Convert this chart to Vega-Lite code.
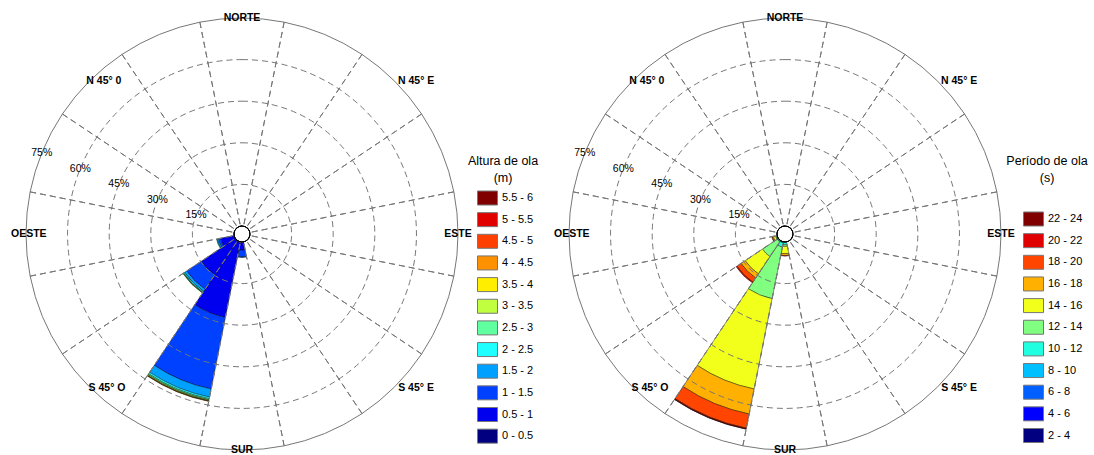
{
  "$schema": "https://vega.github.io/schema/vega-lite/v6.json",
  "padding": 0,
  "background": "white",
  "bounds": "flush",
  "spacing": 59,
  "config": {"view": {"stroke": null}, "font": "Liberation Sans"},
  "resolve": {"scale": {"color": "independent"}, "legend": {"color": "independent"}},
  "datasets": {
    "altura": [
      {"a0": 168.75, "a1": 191.25, "b": 0, "bin": "0 - 0.5", "pct": 0.1},
      {"a0": 168.75, "a1": 191.25, "b": 0.5, "bin": "0.5 - 1", "pct": 2.8},
      {"a0": 168.75, "a1": 191.25, "b": 1, "bin": "1 - 1.5", "pct": 2.5},
      {"a0": 168.75, "a1": 191.25, "b": 1.5, "bin": "1.5 - 2", "pct": 0.2},
      {"a0": 191.25, "a1": 213.75, "b": 0, "bin": "0 - 0.5", "pct": 0.3},
      {"a0": 191.25, "a1": 213.75, "b": 0.5, "bin": "0.5 - 1", "pct": 27.5},
      {"a0": 191.25, "a1": 213.75, "b": 1, "bin": "1 - 1.5", "pct": 26.3},
      {"a0": 191.25, "a1": 213.75, "b": 1.5, "bin": "1.5 - 2", "pct": 3.0},
      {"a0": 191.25, "a1": 213.75, "b": 2, "bin": "2 - 2.5", "pct": 0.6},
      {"a0": 191.25, "a1": 213.75, "b": 2.5, "bin": "2.5 - 3", "pct": 0.4},
      {"a0": 191.25, "a1": 213.75, "b": 3, "bin": "3 - 3.5", "pct": 0.3},
      {"a0": 191.25, "a1": 213.75, "b": 3.5, "bin": "3.5 - 4", "pct": 0.15},
      {"a0": 191.25, "a1": 213.75, "b": 4, "bin": "4 - 4.5", "pct": 0.1},
      {"a0": 213.75, "a1": 236.25, "b": 0, "bin": "0 - 0.5", "pct": 0.2},
      {"a0": 213.75, "a1": 236.25, "b": 0.5, "bin": "0.5 - 1", "pct": 14.6},
      {"a0": 213.75, "a1": 236.25, "b": 1, "bin": "1 - 1.5", "pct": 6.3},
      {"a0": 213.75, "a1": 236.25, "b": 1.5, "bin": "1.5 - 2", "pct": 0.9},
      {"a0": 213.75, "a1": 236.25, "b": 2, "bin": "2 - 2.5", "pct": 0.4},
      {"a0": 213.75, "a1": 236.25, "b": 2.5, "bin": "2.5 - 3", "pct": 0.25},
      {"a0": 213.75, "a1": 236.25, "b": 3, "bin": "3 - 3.5", "pct": 0.1},
      {"a0": 236.25, "a1": 258.75, "b": 0, "bin": "0 - 0.5", "pct": 0.1},
      {"a0": 236.25, "a1": 258.75, "b": 0.5, "bin": "0.5 - 1", "pct": 4.9},
      {"a0": 236.25, "a1": 258.75, "b": 1, "bin": "1 - 1.5", "pct": 0.8},
      {"a0": 236.25, "a1": 258.75, "b": 1.5, "bin": "1.5 - 2", "pct": 0.5},
      {"a0": 236.25, "a1": 258.75, "b": 2, "bin": "2 - 2.5", "pct": 0.2}
    ],
    "periodo": [
      {"a0": 168.75, "a1": 191.25, "b": 8, "bin": "8 - 10", "pct": 0.2},
      {"a0": 168.75, "a1": 191.25, "b": 10, "bin": "10 - 12", "pct": 0.8},
      {"a0": 168.75, "a1": 191.25, "b": 12, "bin": "12 - 14", "pct": 0.6},
      {"a0": 168.75, "a1": 191.25, "b": 14, "bin": "14 - 16", "pct": 2.6},
      {"a0": 168.75, "a1": 191.25, "b": 16, "bin": "16 - 18", "pct": 0.7},
      {"a0": 168.75, "a1": 191.25, "b": 18, "bin": "18 - 20", "pct": 0.2},
      {"a0": 191.25, "a1": 213.75, "b": 6, "bin": "6 - 8", "pct": 0.1},
      {"a0": 191.25, "a1": 213.75, "b": 8, "bin": "8 - 10", "pct": 0.3},
      {"a0": 191.25, "a1": 213.75, "b": 10, "bin": "10 - 12", "pct": 1.5},
      {"a0": 191.25, "a1": 213.75, "b": 12, "bin": "12 - 14", "pct": 19.0},
      {"a0": 191.25, "a1": 213.75, "b": 14, "bin": "14 - 16", "pct": 33.2},
      {"a0": 191.25, "a1": 213.75, "b": 16, "bin": "16 - 18", "pct": 9.2},
      {"a0": 191.25, "a1": 213.75, "b": 18, "bin": "18 - 20", "pct": 5.2},
      {"a0": 191.25, "a1": 213.75, "b": 20, "bin": "20 - 22", "pct": 0.3},
      {"a0": 191.25, "a1": 213.75, "b": 22, "bin": "22 - 24", "pct": 0.1},
      {"a0": 213.75, "a1": 236.25, "b": 8, "bin": "8 - 10", "pct": 0.1},
      {"a0": 213.75, "a1": 236.25, "b": 10, "bin": "10 - 12", "pct": 0.4},
      {"a0": 213.75, "a1": 236.25, "b": 12, "bin": "12 - 14", "pct": 6.4},
      {"a0": 213.75, "a1": 236.25, "b": 14, "bin": "14 - 16", "pct": 7.5},
      {"a0": 213.75, "a1": 236.25, "b": 16, "bin": "16 - 18", "pct": 1.8},
      {"a0": 213.75, "a1": 236.25, "b": 18, "bin": "18 - 20", "pct": 1.8},
      {"a0": 213.75, "a1": 236.25, "b": 20, "bin": "20 - 22", "pct": 0.3},
      {"a0": 236.25, "a1": 258.75, "b": 10, "bin": "10 - 12", "pct": 0.3},
      {"a0": 236.25, "a1": 258.75, "b": 12, "bin": "12 - 14", "pct": 0.3},
      {"a0": 236.25, "a1": 258.75, "b": 14, "bin": "14 - 16", "pct": 0.8},
      {"a0": 236.25, "a1": 258.75, "b": 16, "bin": "16 - 18", "pct": 0.4},
      {"a0": 236.25, "a1": 258.75, "b": 18, "bin": "18 - 20", "pct": 0.2}
    ],
    "rings": [{"r": 15}, {"r": 30}, {"r": 45}, {"r": 60}],
    "outer": [{"r": 75}],
    "hole": [{"r": 0}],
    "spokes": [
      {"a": 11.25}, {"a": 33.75}, {"a": 56.25}, {"a": 78.75},
      {"a": 101.25}, {"a": 123.75}, {"a": 146.25}, {"a": 168.75},
      {"a": 191.25}, {"a": 213.75}, {"a": 236.25}, {"a": 258.75},
      {"a": 281.25}, {"a": 303.75}, {"a": 326.25}, {"a": 348.75}
    ],
    "pcts": [
      {"r": 15, "t": "15%"}, {"r": 30, "t": "30%"}, {"r": 45, "t": "45%"},
      {"r": 60, "t": "60%"}, {"r": 75, "t": "75%"}
    ],
    "dirs": [
      {"t": "NORTE", "ang": 0, "r": 75},
      {"t": "N 45° E", "ang": 48.7, "r": 80.7},
      {"t": "ESTE", "ang": 90, "r": 75},
      {"t": "S 45° E", "ang": 131.5, "r": 80.9},
      {"t": "SUR", "ang": 180, "r": 75},
      {"t": "S 45° O", "ang": 221.2, "r": 71.0},
      {"t": "OESTE", "ang": 270, "r": 74},
      {"t": "N 45° 0", "ang": 317.9, "r": 71.4}
    ]
  },
  "hconcat": [
    {
      "width": 484,
      "height": 468,
      "layer": [
        {
          "data": {"name": "altura"},
          "transform": [{"stack": "pct", "groupby": ["a0"], "sort": [{"field": "b", "order": "ascending"}], "as": ["lo", "hi"]}],
          "mark": {"type": "arc", "stroke": "#000", "strokeWidth": 0.5, "strokeOpacity": 0.8},
          "encoding": {
            "theta": {"field": "a0", "type": "quantitative", "stack": null, "scale": {"domain": [0, 360], "range": [0, 6.283185307179586]}},
            "theta2": {"field": "a1"},
            "radius": {"field": "hi", "type": "quantitative", "stack": null, "scale": {"type": "linear", "domain": [0, 75], "range": [8, 216], "zero": false, "nice": false}},
            "radius2": {"field": "lo"},
            "color": {
              "field": "bin", "type": "nominal",
              "scale": {
                "domain": ["5.5 - 6", "5 - 5.5", "4.5 - 5", "4 - 4.5", "3.5 - 4", "3 - 3.5", "2.5 - 3", "2 - 2.5", "1.5 - 2", "1 - 1.5", "0.5 - 1", "0 - 0.5"],
                "range": ["#800000", "#E00000", "#FF4000", "#FF9000", "#FFEE00", "#C0FF40", "#60FFA0", "#20FFFF", "#00A0FF", "#0040FF", "#0000EE", "#000080"]
              },
              "legend": {
                "orient": "none", "legendX": 468, "legendY": 155,
                "title": ["Altura de ola", "(m)"], "titleAnchor": "middle", "titleAlign": "center",
                "titleFont": "Liberation Sans", "titleFontSize": 12.5, "titleFontWeight": "normal", "titleLineHeight": 17, "titlePadding": 3, "titleColor": "#000",
                "labelFont": "Liberation Sans", "labelFontSize": 11, "labelColor": "#000", "labelOffset": 4,
                "symbolType": "M-1,-0.7H1V0.7H-1Z", "symbolSize": 400, "symbolStrokeColor": "#777", "symbolStrokeWidth": 1, "symbolOpacity": 1, "symbolOffset": 4,
                "rowPadding": 1.65
              }
            }
          }
        },
        {
          "data": {"name": "rings"},
          "mark": {"type": "arc", "fill": null, "filled": false, "stroke": "#777", "strokeWidth": 1, "strokeDash": [6, 4]},
          "encoding": {"theta": {"datum": 0}, "theta2": {"datum": 360}, "radius": {"field": "r", "type": "quantitative", "stack": null}}
        },
        {
          "data": {"name": "outer"},
          "mark": {"type": "arc", "fill": null, "filled": false, "stroke": "#777", "strokeWidth": 1},
          "encoding": {"theta": {"datum": 0}, "theta2": {"datum": 360}, "radius": {"field": "r", "type": "quantitative", "stack": null}}
        },
        {
          "data": {"name": "spokes"},
          "mark": {"type": "arc", "fill": null, "filled": false, "stroke": "#777", "strokeWidth": 1, "strokeDash": [6, 4]},
          "encoding": {"theta": {"field": "a", "type": "quantitative", "stack": null}, "theta2": {"field": "a"}, "radius": {"datum": 75}, "radius2": {"datum": 0}}
        },
        {
          "data": {"name": "hole"},
          "mark": {"type": "arc", "fill": "#fff", "stroke": "#000", "strokeWidth": 1},
          "encoding": {"theta": {"datum": 0}, "theta2": {"datum": 360}, "radius": {"field": "r", "type": "quantitative", "stack": null}}
        },
        {
          "data": {"name": "pcts"},
          "mark": {"type": "text", "font": "Liberation Sans", "fontSize": 10.5, "color": "#000", "align": "center", "baseline": "middle"},
          "encoding": {"theta": {"datum": 292}, "radius": {"field": "r", "type": "quantitative", "stack": null}, "text": {"field": "t"}}
        },
        {
          "data": {"name": "dirs"},
          "mark": {"type": "text", "font": "Liberation Sans", "fontSize": 10.5, "fontWeight": "bold", "color": "#000", "align": "center", "baseline": "middle"},
          "encoding": {"theta": {"field": "ang", "type": "quantitative", "stack": null}, "radius": {"field": "r", "type": "quantitative", "stack": null}, "text": {"field": "t"}}
        }
      ]
    },
    {
      "width": 484,
      "height": 468,
      "layer": [
        {
          "data": {"name": "periodo"},
          "transform": [{"stack": "pct", "groupby": ["a0"], "sort": [{"field": "b", "order": "ascending"}], "as": ["lo", "hi"]}],
          "mark": {"type": "arc", "stroke": "#000", "strokeWidth": 0.5, "strokeOpacity": 0.8},
          "encoding": {
            "theta": {"field": "a0", "type": "quantitative", "stack": null, "scale": {"domain": [0, 360], "range": [0, 6.283185307179586]}},
            "theta2": {"field": "a1"},
            "radius": {"field": "hi", "type": "quantitative", "stack": null, "scale": {"type": "linear", "domain": [0, 75], "range": [8, 216], "zero": false, "nice": false}},
            "radius2": {"field": "lo"},
            "color": {
              "field": "bin", "type": "nominal",
              "scale": {
                "domain": ["22 - 24", "20 - 22", "18 - 20", "16 - 18", "14 - 16", "12 - 14", "10 - 12", "8 - 10", "6 - 8", "4 - 6", "2 - 4"],
                "range": ["#800000", "#E00000", "#FF4500", "#FFB000", "#F2FF1A", "#80FF80", "#20FFE0", "#00C0FF", "#0060FF", "#0000FF", "#000080"]
              },
              "legend": {
                "orient": "none", "legendX": 463, "legendY": 155,
                "title": ["Período de ola", "(s)"], "titleAnchor": "middle", "titleAlign": "center",
                "titleFont": "Liberation Sans", "titleFontSize": 12.5, "titleFontWeight": "normal", "titleLineHeight": 17, "titlePadding": 24, "titleColor": "#000",
                "labelFont": "Liberation Sans", "labelFontSize": 11, "labelColor": "#000", "labelOffset": 4,
                "symbolType": "M-1,-0.7H1V0.7H-1Z", "symbolSize": 400, "symbolStrokeColor": "#777", "symbolStrokeWidth": 1, "symbolOpacity": 1, "symbolOffset": 11,
                "rowPadding": 1.65
              }
            }
          }
        },
        {
          "data": {"name": "rings"},
          "mark": {"type": "arc", "fill": null, "filled": false, "stroke": "#777", "strokeWidth": 1, "strokeDash": [6, 4]},
          "encoding": {"theta": {"datum": 0}, "theta2": {"datum": 360}, "radius": {"field": "r", "type": "quantitative", "stack": null}}
        },
        {
          "data": {"name": "outer"},
          "mark": {"type": "arc", "fill": null, "filled": false, "stroke": "#777", "strokeWidth": 1},
          "encoding": {"theta": {"datum": 0}, "theta2": {"datum": 360}, "radius": {"field": "r", "type": "quantitative", "stack": null}}
        },
        {
          "data": {"name": "spokes"},
          "mark": {"type": "arc", "fill": null, "filled": false, "stroke": "#777", "strokeWidth": 1, "strokeDash": [6, 4]},
          "encoding": {"theta": {"field": "a", "type": "quantitative", "stack": null}, "theta2": {"field": "a"}, "radius": {"datum": 75}, "radius2": {"datum": 0}}
        },
        {
          "data": {"name": "hole"},
          "mark": {"type": "arc", "fill": "#fff", "stroke": "#000", "strokeWidth": 1},
          "encoding": {"theta": {"datum": 0}, "theta2": {"datum": 360}, "radius": {"field": "r", "type": "quantitative", "stack": null}}
        },
        {
          "data": {"name": "pcts"},
          "mark": {"type": "text", "font": "Liberation Sans", "fontSize": 10.5, "color": "#000", "align": "center", "baseline": "middle"},
          "encoding": {"theta": {"datum": 292}, "radius": {"field": "r", "type": "quantitative", "stack": null}, "text": {"field": "t"}}
        },
        {
          "data": {"name": "dirs"},
          "mark": {"type": "text", "font": "Liberation Sans", "fontSize": 10.5, "fontWeight": "bold", "color": "#000", "align": "center", "baseline": "middle"},
          "encoding": {"theta": {"field": "ang", "type": "quantitative", "stack": null}, "radius": {"field": "r", "type": "quantitative", "stack": null}, "text": {"field": "t"}}
        }
      ]
    }
  ]
}
